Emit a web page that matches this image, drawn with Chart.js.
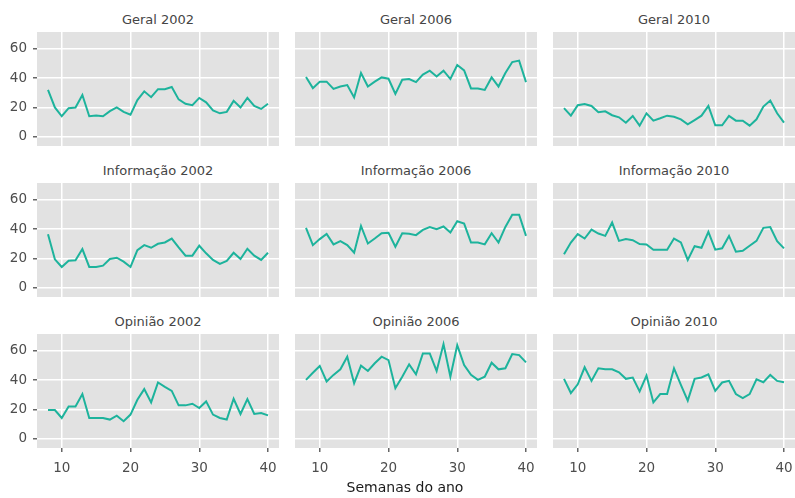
<!DOCTYPE html>
<html>
<head>
<meta charset="utf-8">
<script src="https://cdn.jsdelivr.net/npm/chart.js@4"></script>
<style>
  html, body { margin:0; padding:0; background:#fff; }
  #wrap { position:relative; width:795px; height:498px; overflow:hidden; font-family:"DejaVu Sans", Verdana, sans-serif; }
  canvas { position:absolute; }
  .ttl { position:absolute; width:242px; text-align:center; font-size:13px; line-height:16px; color:#454545; }
  .axt { position:absolute; width:200px; text-align:center; font-size:14px; line-height:17px; color:#1a1a1a; }
</style>
</head>
<body>
<div id="wrap"></div>
<script>
// ---- data ----
const weeks = [8,9,10,11,12,13,14,15,16,17,18,19,20,21,22,23,24,25,26,27,28,29,30,31,32,33,34,35,36,37,38,39,40];
const geral2002 = [32,20,14,19.5,20,28.5,14,14.5,14,17.5,20,17,15,25,31,27,32.5,32.5,34,25.5,22.5,21.5,26.5,23.5,18,16,17,24.5,20,26.5,21,19,22.5];
const geral2006 = [40.8,33.2,37.6,37.6,32.7,34.3,35.3,26.8,43.5,34.3,37.6,40.5,39.6,29.3,38.9,39.4,37.3,42.4,45.1,41.2,45.1,39.4,49,45.3,33,33,32,40.5,34.3,43.5,51,52,37.3];
const geral2010 = [19.5,14.4,21.5,22.4,21,16.7,17.4,14.7,13.3,9.6,14.2,7.6,16,11,12.6,14.4,13.7,11.9,8.5,11.4,14.4,21,7.8,7.8,14.2,11,11,7.6,11.9,20.6,24.7,16,9.6];
const info2002 = [36.6,19.4,14.2,18.5,18.7,26.4,14.2,14.2,15.1,19.6,20.5,17.8,14.2,25.7,29.1,27.3,30,30.9,33.6,27.5,21.9,21.9,28.7,23.5,19,16.3,18.3,23.9,19.6,26.6,21.9,19,23.9];
const info2006 = [40.9,29.1,33.2,36.8,29.6,31.8,29.1,23.9,42.2,30.2,33.6,37.2,37.5,28,37.2,36.8,35.9,39.5,41.5,40,41.8,37.7,45.4,43.8,30.9,30.9,29.6,37.2,30.9,41.5,49.9,49.9,35.4];
const info2010 = [22.8,30.9,36.6,33.6,39.7,37,35.4,44.5,32,33.2,32.5,29.8,29.6,26,26,26,33.6,30.9,19,28.4,27.3,38.1,26,26.9,35.4,24.6,25.3,28.7,32,40.9,41.5,31.8,26.9];
const opin2002 = [19.6,19.6,14.2,22.1,22.1,30.5,14.2,14.2,14.2,13.1,15.8,12,16.5,26.6,33.9,24.8,38.4,35.4,32.7,22.8,22.8,23.9,21,25.5,16.5,14.2,13.1,27.3,16.9,27.1,16.9,17.6,16];
const opin2006 = [40.2,45.1,49.7,39.1,43.6,47.4,56,37.9,49.9,46.3,51.5,56,53.7,34.5,42.4,50.8,44,58.2,58.2,46.3,64.6,42.4,63.9,50.3,43.6,40.2,42.4,51.9,47.4,48.1,57.8,57.1,52.1];
const opin2010 = [40.9,31.2,37.2,48.8,39.5,48.1,47.4,47.4,45.3,40.9,41.8,32.3,43.1,24.8,30.5,30.5,48.1,36.8,26,40.9,41.8,44,32.7,38.4,39.5,30.5,27.8,30.5,40.6,38.6,43.6,39.5,38.6];
const xTicks = [10,20,30,40];
const yTicks = [0,20,40,60];
const panelTitles = ["Geral 2002","Geral 2006","Geral 2010","Informação 2002","Informação 2006","Informação 2010","Opinião 2002","Opinião 2006","Opinião 2010"];
const panelSeries = [geral2002,geral2006,geral2010,info2002,info2006,info2010,opin2002,opin2006,opin2010];
const xAxisTitle = "Semanas do ano";

// ---- layout ----
const colLeft = [37, 295, 553];
const rowTop = [32, 183, 334];
const plotW = 242, plotH = 114;
const yAxisW = 37, xAxisH = 40;
const FONT = "DejaVu Sans";

const bgPlugin = {
  id: 'panelBg',
  beforeDraw(chart) {
    const a = chart.chartArea, c = chart.ctx;
    c.save(); c.fillStyle = '#e2e2e2';
    c.fillRect(a.left, a.top, a.right - a.left, a.bottom - a.top);
    c.restore();
  }
};

const wrap = document.getElementById('wrap');
panelSeries.forEach((series, i) => {
  const col = i % 3, row = Math.floor(i / 3);
  const showY = col === 0, showX = row === 2;
  const cw = plotW + (showY ? yAxisW : 0);
  const ch = plotH + (showX ? xAxisH : 0);
  const cv = document.createElement('canvas');
  cv.width = cw; cv.height = ch;
  cv.style.left = (colLeft[col] - (showY ? yAxisW : 0)) + 'px';
  cv.style.top = rowTop[row] + 'px';
  cv.style.width = cw + 'px'; cv.style.height = ch + 'px';
  wrap.appendChild(cv);

  const t = document.createElement('div');
  t.className = 'ttl';
  t.textContent = panelTitles[i];
  t.style.left = colLeft[col] + 'px';
  t.style.top = (rowTop[row] - 20) + 'px';
  wrap.appendChild(t);

  new Chart(cv, {
    type: 'line',
    data: {
      datasets: [{
        data: weeks.map((w, k) => ({ x: w, y: series[k] })),
        borderColor: '#1db39c', borderWidth: 2, pointRadius: 0, tension: 0, fill: false
      }]
    },
    options: {
      responsive: false, animation: false, devicePixelRatio: 1,
      layout: { padding: 0 },
      plugins: { legend: { display: false }, tooltip: { enabled: false } },
      scales: {
        x: {
          type: 'linear', min: 6.4, max: 41.6, bounds: 'data',
          afterBuildTicks: s => { s.ticks = xTicks.map(v => ({ value: v })); },
          afterFit: s => { s.height = showX ? xAxisH : 0; s.paddingLeft = 0; s.paddingRight = 0; },
          grid: { color: '#ffffff', lineWidth: 1.5, drawTicks: showX, tickLength: 4, tickColor: '#666666' },
          border: { display: false },
          ticks: { display: showX, padding: 8, color: '#4d4d4d', font: { family: FONT, size: 13.5 }, maxRotation: 0 }
        },
        y: {
          type: 'linear', min: -6.3, max: 71.5, bounds: 'data',
          afterBuildTicks: s => { s.ticks = yTicks.map(v => ({ value: v })); },
          afterFit: s => { s.width = showY ? yAxisW : 0; s.paddingTop = 0; s.paddingBottom = 0; },
          grid: { color: '#ffffff', lineWidth: 1.5, drawTicks: showY, tickLength: 4, tickColor: '#666666' },
          border: { display: false },
          ticks: { display: showY, padding: 6, color: '#4d4d4d', font: { family: FONT, size: 13.5 } }
        }
      }
    },
    plugins: [bgPlugin]
  });
});

const ax = document.createElement('div');
ax.className = 'axt';
ax.textContent = xAxisTitle;
ax.style.left = '305px';
ax.style.top = '479px';
wrap.appendChild(ax);
</script>
</body>
</html>
